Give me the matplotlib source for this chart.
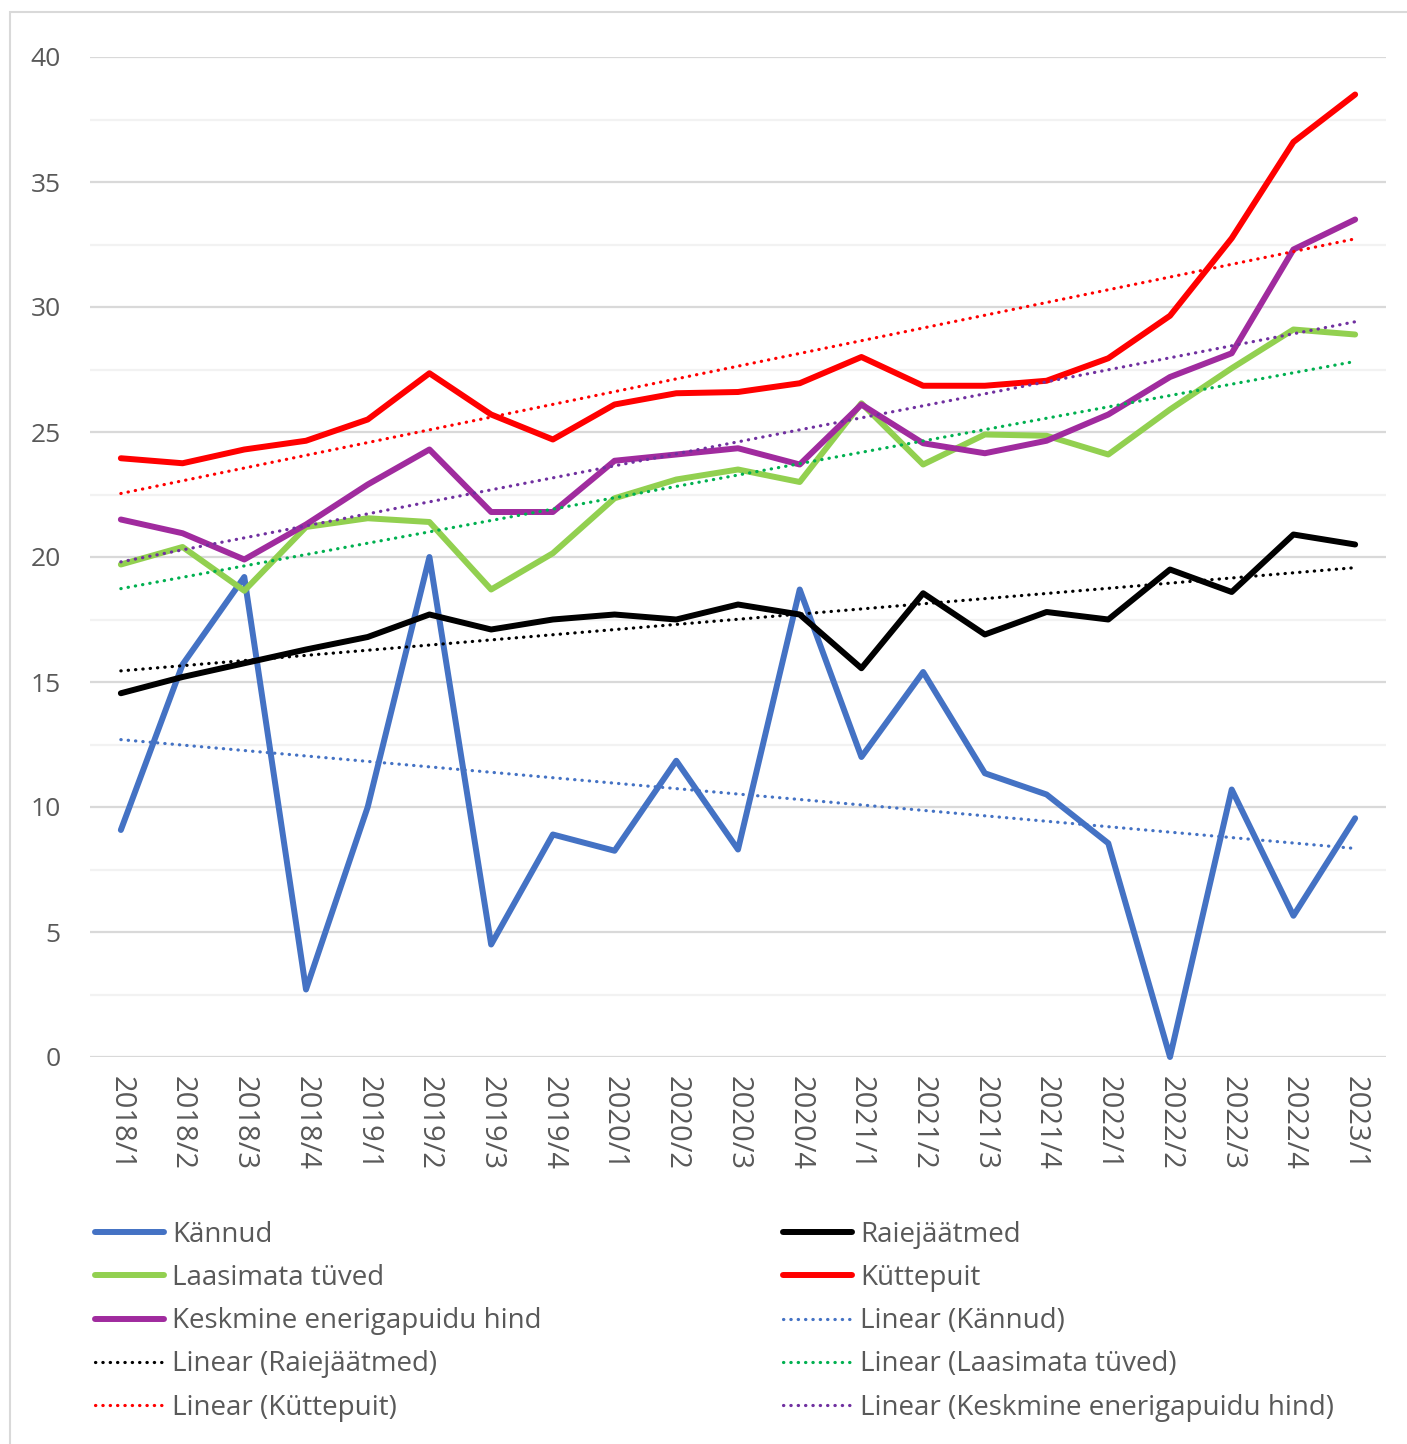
import numpy as np
import matplotlib
matplotlib.use("Agg")
import matplotlib.pyplot as plt
from matplotlib.patches import Rectangle

# ---- andmed ----
quarters = ["2018/1", "2018/2", "2018/3", "2018/4",
            "2019/1", "2019/2", "2019/3", "2019/4",
            "2020/1", "2020/2", "2020/3", "2020/4",
            "2021/1", "2021/2", "2021/3", "2021/4",
            "2022/1", "2022/2", "2022/3", "2022/4",
            "2023/1"]

kannud = [9.08, 15.7, 19.2, 2.7, 10.0, 20.0, 4.5, 8.9, 8.25, 11.85, 8.3,
          18.7, 12.0, 15.4, 11.35, 10.5, 8.55, 0.0, 10.7, 5.65, 9.55]
raiejaatmed = [14.55, 15.2, 15.75, 16.3, 16.8, 17.7, 17.1, 17.5, 17.7, 17.5, 18.1,
               17.7, 15.55, 18.55, 16.9, 17.8, 17.5, 19.5, 18.6, 20.9, 20.5]
laasimata = [19.7, 20.4, 18.65, 21.2, 21.55, 21.4, 18.7, 20.15, 22.35, 23.1, 23.5,
             23.0, 26.15, 23.7, 24.9, 24.85, 24.1, 25.9, 27.55, 29.1, 28.9]
kuttepuit = [23.95, 23.75, 24.3, 24.65, 25.5, 27.35, 25.7, 24.7, 26.1, 26.55, 26.6,
             26.95, 28.0, 26.85, 26.85, 27.05, 27.95, 29.65, 32.75, 36.6, 38.5]
keskmine = [21.5, 20.95, 19.9, 21.3, 22.9, 24.3, 21.8, 21.8, 23.85, 24.1, 24.35,
            23.7, 26.1, 24.55, 24.15, 24.65, 25.7, 27.2, 28.15, 32.3, 33.5]

series = [
    ("Kännud", kannud, "#4472C4", "#4472C4"),
    ("Raiejäätmed", raiejaatmed, "#000000", "#000000"),
    ("Laasimata tüved", laasimata, "#92D050", "#00B050"),
    ("Küttepuit", kuttepuit, "#FF0000", "#FF0000"),
    ("Keskmine enerigapuidu hind", keskmine, "#A02B9E", "#7030A0"),
]

FONT = "Open Sans"
TXT = "#595959"
FS = 19
W, H = 1407, 1444

fig = plt.figure(figsize=(W / 100, H / 100), dpi=100)
fig.patch.set_facecolor("white")
# diagrammi raam (vasak + ülemine serv)
fig.add_artist(Rectangle((10 / W, -0.01), 1.1, (H - 12) / H + 0.01,
                         transform=fig.transFigure, fill=False,
                         edgecolor="#D9D9D9", lw=1.5))

ax = fig.add_axes([90 / W, (H - 1057) / H, (1386 - 90) / W, 1000 / H])
x = np.arange(len(quarters))

main_lines, trend_lines = [], []
for name, vals, col, tcol in series:
    ln, = ax.plot(x, vals, color=col, lw=4.3, solid_capstyle="round",
                  solid_joinstyle="round", clip_on=False, zorder=3, label=name)
    main_lines.append(ln)
for name, vals, col, tcol in series:
    k, b = np.polyfit(x, vals, 1)
    tl, = ax.plot(x, k * x + b, color=tcol, lw=2.3, linestyle=(0, (0.1, 2.2)),
                  dash_capstyle="round", clip_on=False, zorder=4,
                  label="Linear (" + name + ")")
    trend_lines.append(tl)

ax.set_xlim(-0.5, len(quarters) - 0.5)
ax.set_ylim(0, 40)
ax.set_yticks(np.arange(0, 41, 5))
ax.set_yticks(np.arange(2.5, 40, 5), minor=True)
ax.grid(True, which="major", axis="y", color="#D9D9D9", lw=1.6, zorder=0)
ax.grid(True, which="minor", axis="y", color="#F2F2F2", lw=1.6, zorder=0)
ax.set_axisbelow(True)
for s in ax.spines.values():
    s.set_visible(False)
ax.tick_params(axis="y", which="both", length=0, pad=21, labelsize=FS,
               labelcolor=TXT)
ax.tick_params(axis="x", length=0, pad=14, labelsize=21, labelcolor=TXT)
ax.set_xticks(x)
ax.set_xticklabels(quarters, rotation=270, fontfamily=FONT, va="top", ha="center")
for t in ax.get_yticklabels():
    t.set_fontfamily(FONT)

# legend: kaks veergu, read nagu Excelis
left_h = [main_lines[0], main_lines[2], main_lines[4], trend_lines[1], trend_lines[3]]
right_h = [main_lines[1], main_lines[3], trend_lines[0], trend_lines[2], trend_lines[4]]
common = dict(frameon=False, loc="upper left", borderpad=0, borderaxespad=0,
              handlelength=2.5, handletextpad=0.28, labelspacing=0.545,
              prop={"family": FONT, "size": 20}, labelcolor=TXT)
leg1 = fig.legend(handles=left_h, bbox_to_anchor=(95 / W, (H - 1221) / H), **common)
leg2 = fig.legend(handles=right_h, bbox_to_anchor=(783 / W, (H - 1221) / H), **common)

fig.savefig("out.png", dpi=100)
